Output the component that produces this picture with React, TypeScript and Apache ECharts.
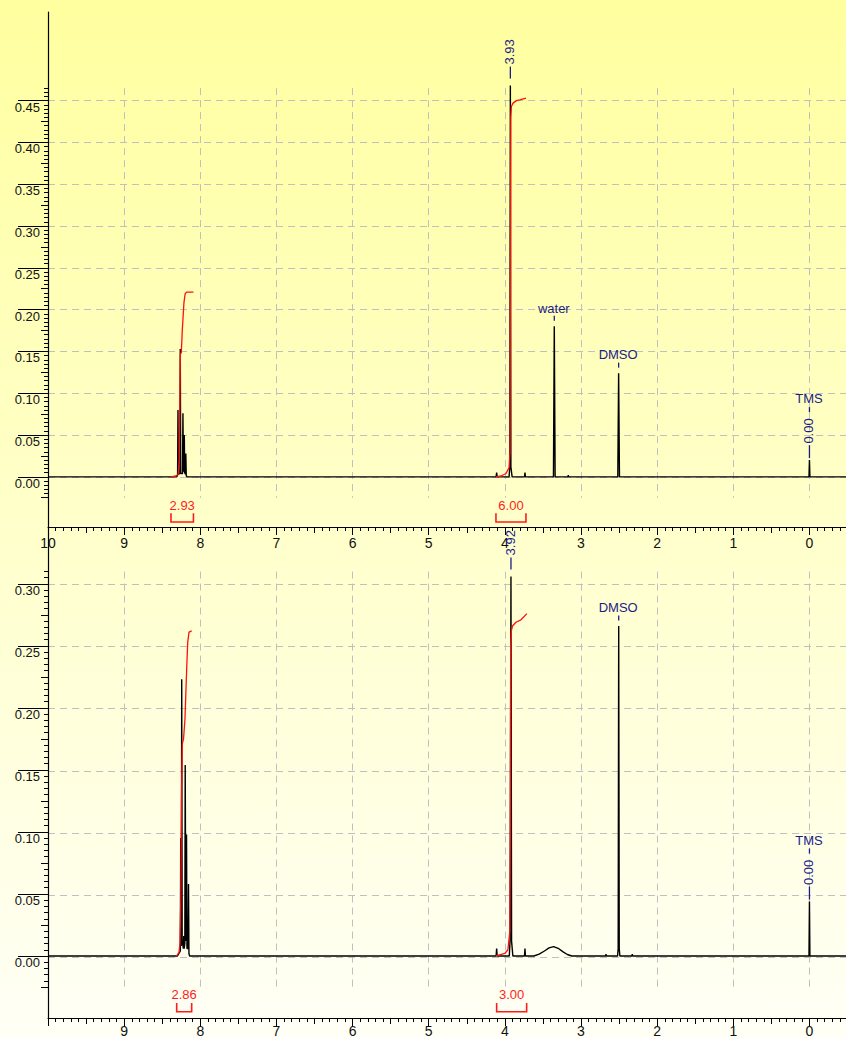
import React, { useEffect, useRef } from "react";
import * as echarts from "echarts";

// ---------------- data ----------------
const xTickLabelsTop = [10, 9, 8, 7, 6, 5, 4, 3, 2, 1, 0];
const xTickLabelsBottom = [9, 8, 7, 6, 5, 4, 3, 2, 1, 0];
const yTickLabelsTop = [0, 0.05, 0.1, 0.15, 0.2, 0.25, 0.3, 0.35, 0.4, 0.45];
const yTickLabelsBottom = [0, 0.05, 0.1, 0.15, 0.2, 0.25, 0.3];

const topSpectrum: [number, number][] = [
  [10.0, 0.0], [8.31, 0.0], [8.298, 0.002], [8.293, 0.08], [8.288, 0.003],
  [8.268, 0.004], [8.263, 0.153], [8.257, 0.004], [8.233, 0.004], [8.228, 0.076],
  [8.222, 0.006], [8.214, 0.006], [8.21, 0.05], [8.205, 0.005], [8.195, 0.003],
  [8.19, 0.028], [8.184, 0.001], [8.17, 0.0],
  [4.115, 0.0], [4.108, 0.005], [4.101, 0.0],
  [3.945, 0.0], [3.935, 0.012], [3.928, 0.468], [3.921, 0.012], [3.905, 0.0],
  [3.742, 0.0], [3.736, 0.005], [3.73, 0.0],
  [3.362, 0.0], [3.351, 0.18], [3.34, 0.0],
  [3.172, 0.0], [3.167, 0.002], [3.162, 0.0],
  [2.517, 0.0], [2.506, 0.124], [2.495, 0.0],
  [0.006, 0.0], [0.0, 0.02], [-0.006, 0.0], [-0.48, 0.0],
];
const topIntegralAromatic: [number, number][] = [
  [8.385, 0.0], [8.32, 0.001], [8.29, 0.003], [8.277, 0.02], [8.268, 0.092], [8.262, 0.146],
  [8.249, 0.149], [8.236, 0.176], [8.215, 0.208], [8.199, 0.219], [8.18, 0.221], [8.09, 0.221],
];
const topIntegralMethoxy: [number, number][] = [
  [4.117, 0.0], [4.05, 0.001], [3.985, 0.004], [3.945, 0.011], [3.932, 0.03], [3.928, 0.2],
  [3.922, 0.43], [3.914, 0.443], [3.893, 0.447], [3.849, 0.45], [3.805, 0.451], [3.723, 0.453],
];
const topIntegralRanges = [[8.385, 8.09], [4.117, 3.723]];
const topIntegralValues = ["2.93", "6.00"];
const topPeakLabels = [
  { ppm: 3.928, shift: "3.93" },
  { ppm: 3.351, name: "water" },
  { ppm: 2.506, name: "DMSO" },
  { ppm: 0.0, name: "TMS", shift: "0.00" },
];

const bottomSpectrum: [number, number][] = [
  [10.0, 0.0], [8.3, 0.0], [8.262, 0.004], [8.257, 0.095], [8.251, 0.008], [8.248, 0.012],
  [8.244, 0.223], [8.238, 0.012], [8.222, 0.006], [8.217, 0.016], [8.212, 0.006],
  [8.203, 0.01], [8.198, 0.154], [8.19, 0.012], [8.186, 0.012], [8.181, 0.098],
  [8.175, 0.006], [8.16, 0.006], [8.155, 0.058], [8.149, 0.002], [8.14, 0.0],
  [4.115, 0.0], [4.108, 0.006], [4.101, 0.0],
  [3.942, 0.0], [3.932, 0.012], [3.92, 0.306], [3.912, 0.012], [3.895, 0.0],
  [3.742, 0.0], [3.736, 0.006], [3.73, 0.0],
  [3.62, 0.0], [3.55, 0.0015], [3.48, 0.004], [3.42, 0.0065], [3.36, 0.0076],
  [3.3, 0.0062], [3.24, 0.0035], [3.18, 0.0012], [3.12, 0.0],
  [2.677, 0.0], [2.672, 0.0015], [2.667, 0.0],
  [2.52, 0.0], [2.512, 0.006], [2.505, 0.266], [2.498, 0.006], [2.49, 0.0],
  [2.332, 0.0], [2.327, 0.0015], [2.322, 0.0],
  [0.006, 0.0], [0.0, 0.0439], [-0.006, 0.0], [-0.48, 0.0],
];
const bottomIntegralAromatic: [number, number][] = [
  [8.31, 0.0], [8.28, 0.003], [8.267, 0.01], [8.256, 0.046], [8.247, 0.127], [8.236, 0.171],
  [8.22, 0.175], [8.201, 0.191], [8.179, 0.231], [8.165, 0.253], [8.148, 0.261], [8.113, 0.262],
];
const bottomIntegralMethoxy: [number, number][] = [
  [4.117, 0.0], [4.0, 0.002], [3.96, 0.005], [3.935, 0.02], [3.928, 0.1], [3.924, 0.25],
  [3.915, 0.262], [3.9, 0.266], [3.854, 0.269], [3.789, 0.271], [3.71, 0.276],
];
const bottomIntegralRanges = [[8.31, 8.113], [4.108, 3.714]];
const bottomIntegralValues = ["2.86", "3.00"];
const bottomPeakLabels = [
  { ppm: 3.92, shift: "3.92" },
  { ppm: 2.505, name: "DMSO" },
  { ppm: 0.0, name: "TMS", shift: "0.00" },
];

// ---------------- layout / style ----------------
const FONT = "'Liberation Sans', Arial, sans-serif";
const BLUE = "#1c1c88";
const RED = "#ff1c1c";
const GRID_COLOR = "#c0c0c0";
const X_MIN = -0.48;
const X_MAX = 10;
const PLOT_LEFT = 48;
const PLOT_WIDTH = 798;
const PX_PER_PPM = PLOT_WIDTH / (X_MAX - X_MIN);

type PeakLabel = { ppm: number; name?: string; shift?: string };
type Panel = {
  top: number; height: number; yMin: number; yMax: number;
  tickLo: number; tickHi: number;
  yLabels: number[]; xLabels: number[]; xLabelMargin: number;
  spectrum: [number, number][]; integrals: [number, number][][];
  ranges: number[][]; values: string[]; bracketText: number;
  peakLabels: PeakLabel[];
};

function steps(lo: number, hi: number, step: number): number[] {
  const out: number[] = [];
  const n = Math.floor((hi - lo) / step + 1e-6);
  for (let i = 0; i <= n; i++) out.push(+(lo + i * step).toFixed(4));
  return out;
}
const isMult = (v: number, m: number) => Math.abs(v / m - Math.round(v / m)) < 1e-6;

function peakHeight(spec: [number, number][], ppm: number) {
  let h = 0;
  for (const [x, y] of spec) if (Math.abs(x - ppm) <= 0.01 && y > h) h = y;
  return h;
}

const hidden = {
  axisLine: { show: false, onZero: false },
  axisTick: { show: false },
  axisLabel: { show: false },
  splitLine: { show: false },
};
const dashed = { color: GRID_COLOR, type: [7, 5], width: 1 };
const invisibleItem = { color: "rgba(0,0,0,0)", opacity: 1 };

function addPanel(o: any, p: Panel) {
  const pxY = p.height / (p.yMax - p.yMin);
  const py = (v: number) => p.top + (p.yMax - v) * pxY;
  const labelMax = p.yLabels[p.yLabels.length - 1];

  // vertical grid lines
  let gi = o.grid.length;
  o.grid.push({ left: PLOT_LEFT, width: X_MAX * PX_PER_PPM, top: py(p.tickHi), height: py(p.tickLo) - py(p.tickHi) });
  o.xAxis.push({ type: "value", gridIndex: gi, min: 0, max: X_MAX, interval: 1, inverse: true, z: 0, ...hidden,
    splitLine: { show: true, showMaxLine: false, lineStyle: dashed } });
  o.yAxis.push({ type: "value", gridIndex: gi, min: 0, max: 1, z: 0, ...hidden });

  // horizontal grid lines
  gi = o.grid.length;
  o.grid.push({ left: PLOT_LEFT, width: PLOT_WIDTH, top: py(labelMax), height: py(0) - py(labelMax) });
  o.xAxis.push({ type: "value", gridIndex: gi, min: X_MIN, max: X_MAX, inverse: true, z: 0, ...hidden });
  o.yAxis.push({ type: "value", gridIndex: gi, min: 0, max: labelMax, interval: 0.05, z: 0, ...hidden,
    splitLine: { show: true, lineStyle: dashed } });

  // main grid
  gi = o.grid.length;
  o.grid.push({ left: PLOT_LEFT, width: PLOT_WIDTH, top: p.top, height: p.height });
  const tickStyle = { color: "#000", width: 1 };
  const baseX = { type: "value", gridIndex: gi, min: X_MIN, max: X_MAX, inverse: true, position: "bottom", z: 1, ...hidden };
  const xMain = o.xAxis.length;
  o.xAxis.push({ ...baseX,
    axisLine: { show: true, onZero: false, lineStyle: { color: "#000", width: 1.2 } },
    axisTick: { show: true, customValues: steps(0, 10, 1), length: 8, lineStyle: tickStyle },
    axisLabel: { show: true, customValues: p.xLabels, formatter: (v: number) => String(v), margin: p.xLabelMargin,
      color: "#111", fontSize: 14, fontFamily: FONT, showMinLabel: true, showMaxLabel: true, hideOverlap: false },
  });
  o.xAxis.push({ ...baseX, axisTick: { show: true, customValues: steps(0.5, 9.5, 1), length: 6, lineStyle: tickStyle } });
  o.xAxis.push({ ...baseX, axisTick: { show: true, customValues: steps(-0.4, 9.9, 0.1).filter((v) => !isMult(v, 0.5)), length: 4, lineStyle: tickStyle } });

  const baseY = { type: "value", gridIndex: gi, min: p.yMin, max: p.yMax, position: "left", z: 1, ...hidden };
  const yMain = o.yAxis.length;
  o.yAxis.push({ ...baseY,
    axisLine: { show: true, onZero: false, lineStyle: { color: "#000", width: 1.2 } },
    axisTick: { show: true, customValues: p.yLabels, length: 30, lineStyle: tickStyle },
    axisLabel: { show: true, customValues: p.yLabels, formatter: (v: number) => v.toFixed(2), margin: 8,
      verticalAlign: "top", color: "#111", fontSize: 13, fontFamily: FONT, showMinLabel: true, showMaxLabel: true },
  });
  o.yAxis.push({ ...baseY, axisTick: { show: true, customValues: steps(p.tickLo, p.tickHi, 0.05), length: 7, lineStyle: tickStyle } });
  o.yAxis.push({ ...baseY, axisTick: { show: true, customValues: steps(p.tickLo, p.tickHi, 0.005).filter((v) => !isMult(v, 0.025)), length: 4, lineStyle: tickStyle } });

  const ax = { xAxisIndex: xMain, yAxisIndex: yMain };
  // spectrum
  o.series.push({ type: "line", ...ax, data: p.spectrum, symbol: "none", silent: true, z: 3,
    lineStyle: { color: "#000", width: 1.4 } });
  // integral curves
  p.integrals.forEach((d) => o.series.push({ type: "line", ...ax, data: d, symbol: "none", silent: true, z: 4,
    lineStyle: { color: "#ff1010", width: 1.3 } }));
  // integral brackets
  const endLvl = p.bracketText - 8.3 / pxY;
  const lineLvl = p.bracketText - 17 / pxY;
  o.series.push({ type: "lines", coordinateSystem: "cartesian2d", ...ax, polyline: true, silent: true, z: 4,
    lineStyle: { color: RED, width: 1.6, opacity: 1 },
    data: p.ranges.map((r) => ({ coords: [[r[0], endLvl], [r[0], lineLvl], [r[1], lineLvl], [r[1], endLvl]] })) });
  o.series.push({ type: "scatter", ...ax, symbolSize: 1, silent: true, z: 5, itemStyle: invisibleItem,
    label: { show: true, position: "inside", color: RED, fontSize: 13, fontFamily: FONT, opacity: 1 },
    data: p.ranges.map((r, i) => ({ value: [(r[0] + r[1]) / 2, p.bracketText],
      label: { show: true, formatter: p.values[i], color: RED, fontSize: 13, fontFamily: FONT } })) });

  // peak annotations
  const ticks: any[] = [];
  const texts: any[] = [];
  const txt = { color: BLUE, fontSize: 13, fontFamily: FONT, opacity: 1 };
  const seg = (pt: number[], a: number, b: number) =>
    ticks.push({ value: pt, symbolSize: [1.3, b - a], symbolOffset: [0, -(a + b) / 2] });
  const nameLbl = (pt: number[], t: string, c: number) =>
    texts.push({ value: pt, label: { show: true, formatter: t, position: [0, -c], align: "center", verticalAlign: "middle", ...txt } });
  const shiftLbl = (pt: number[], t: string, s: number) =>
    texts.push({ value: pt, label: { show: true, formatter: t, position: [0, -s], rotate: 90, align: "left", verticalAlign: "middle", ...txt } });
  for (const l of p.peakLabels) {
    const pt = [l.ppm, peakHeight(p.spectrum, l.ppm)];
    if (l.name && l.shift) {
      seg(pt, 2, 15); shiftLbl(pt, l.shift, 16); seg(pt, 48, 53); nameLbl(pt, l.name, 61);
    } else if (l.shift) {
      seg(pt, 7, 19); shiftLbl(pt, l.shift, 20.5);
    } else if (l.name) {
      seg(pt, 5.5, 10.5); nameLbl(pt, l.name, 17.7);
    }
  }
  o.series.push({ type: "scatter", ...ax, symbol: "rect", silent: true, z: 5, itemStyle: { color: BLUE, opacity: 1 }, data: ticks });
  o.series.push({ type: "scatter", ...ax, symbolSize: 1, silent: true, z: 5, itemStyle: invisibleItem,
    label: txt, data: texts });
}

function buildOption() {
  const o: any = { animation: false, grid: [], xAxis: [], yAxis: [], series: [], textStyle: { fontFamily: FONT } };
  addPanel(o, {
    top: 12, height: 515, yMin: -0.06, yMax: 0.556, tickLo: -0.025, tickHi: 0.465,
    yLabels: yTickLabelsTop, xLabels: xTickLabelsTop, xLabelMargin: 9,
    spectrum: topSpectrum, integrals: [topIntegralAromatic, topIntegralMethoxy],
    ranges: topIntegralRanges, values: topIntegralValues, bracketText: -0.0337,
    peakLabels: topPeakLabels,
  });
  addPanel(o, {
    top: 528, height: 492, yMin: -0.05, yMax: 0.345, tickLo: -0.025, tickHi: 0.31,
    yLabels: yTickLabelsBottom, xLabels: xTickLabelsBottom, xLabelMargin: 6,
    spectrum: bottomSpectrum, integrals: [bottomIntegralAromatic, bottomIntegralMethoxy],
    ranges: bottomIntegralRanges, values: bottomIntegralValues, bracketText: -0.0313,
    peakLabels: bottomPeakLabels,
  });
  return o;
}

export default function App() {
  const ref = useRef<HTMLDivElement>(null);
  useEffect(() => {
    if (!ref.current) return;
    const chart = echarts.init(ref.current, null, { renderer: "svg" });
    chart.setOption(buildOption());
    return () => chart.dispose();
  }, []);
  return (
    <div
      ref={ref}
      style={{
        position: "fixed", left: 0, top: 0, width: 846, height: 1038,
        background: "linear-gradient(to bottom, #FFFF9F 0%, #FFFFF6 100%)",
      }}
    />
  );
}
